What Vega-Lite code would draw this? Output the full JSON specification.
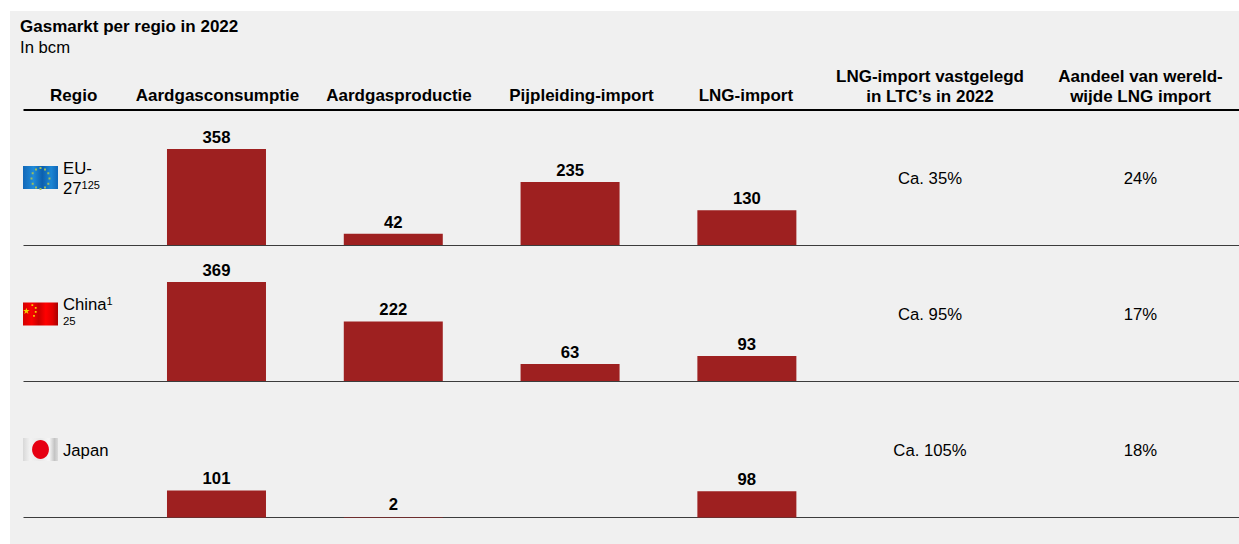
{"$schema":"https://vega.github.io/schema/vega-lite/v6.json","background":"#ffffff","padding":{"left":10,"top":11,"right":0,"bottom":0},"bounds":"flush","spacing":0,"config":{"font":"Liberation Sans","view":{"fill":"#f0f0f0","stroke":null},"text":{"fontSize":16.7,"color":"#000000"},"axis":{"title":null,"labels":false,"ticks":false,"grid":false,"domain":true,"domainColor":"#3c3c3c","domainWidth":1,"offset":-1}},"datasets":{"staven":[{"regio":"EU-27","kolom":"Aardgasconsumptie","waarde":358},{"regio":"EU-27","kolom":"Aardgasproductie","waarde":42},{"regio":"EU-27","kolom":"Pijpleiding-import","waarde":235},{"regio":"EU-27","kolom":"LNG-import","waarde":130},{"regio":"China","kolom":"Aardgasconsumptie","waarde":369},{"regio":"China","kolom":"Aardgasproductie","waarde":222},{"regio":"China","kolom":"Pijpleiding-import","waarde":63},{"regio":"China","kolom":"LNG-import","waarde":93},{"regio":"Japan","kolom":"Aardgasconsumptie","waarde":101},{"regio":"Japan","kolom":"Aardgasproductie","waarde":2},{"regio":"Japan","kolom":"LNG-import","waarde":98}],"tabel":[{"regio":"EU-27","kolom":"LTC","tekst":"Ca. 35%"},{"regio":"EU-27","kolom":"Aandeel","tekst":"24%"},{"regio":"China","kolom":"LTC","tekst":"Ca. 95%"},{"regio":"China","kolom":"Aandeel","tekst":"17%"},{"regio":"Japan","kolom":"LTC","tekst":"Ca. 105%"},{"regio":"Japan","kolom":"Aandeel","tekst":"18%"}],"regios":[{"regio":"EU-27","kolom":"Regio","label":"EU-\n27"},{"regio":"China","kolom":"Regio","label":"China"},{"regio":"Japan","kolom":"Regio","label":"Japan"}],"koppen":[{"kolom":"Aardgasconsumptie","tekst":"Aardgasconsumptie"},{"kolom":"Aardgasproductie","tekst":"Aardgasproductie"},{"kolom":"Pijpleiding-import","tekst":"Pijpleiding-import"},{"kolom":"LNG-import","tekst":"LNG-import"}],"koppen2":[{"kolom":"LTC","tekst":"LNG-import vastgelegd\nin LTC’s in 2022"},{"kolom":"Aandeel","tekst":"Aandeel van wereld-\nwijde LNG import"}]},"vconcat":[{"width":1229,"height":100,"title":{"text":"Gasmarkt per regio in 2022","subtitle":"In bcm","anchor":"start","frame":"group","dx":10,"offset":-47,"fontSize":17,"fontWeight":"bold","color":"#000000","subtitleFontSize":16.7,"subtitleColor":"#000000","subtitlePadding":4.5,"font":"Liberation Sans","subtitleFont":"Liberation Sans"},"resolve":{"scale":{"x":"independent"}},"layer":[{"data":{"name":"koppen"},"transform":[{"filter":"datum.kolom === 'Aardgasconsumptie'"}],"mark":{"type":"text","fontWeight":"bold","fontSize":17,"dy":34.5,"dx":1},"encoding":{"x":{"field":"kolom","type":"nominal","sort":null,"scale":{"type":"band","domain":["Aardgasconsumptie","Aardgasproductie","Pijpleiding-import","LNG-import","LTC","Aandeel"],"range":[13,1229],"paddingInner":0,"paddingOuter":0.439,"align":0.677},"axis":{"domainColor":"#000000","domainWidth":2,"offset":-1.5}},"text":{"field":"tekst"}}},{"data":{"name":"koppen"},"transform":[{"filter":"datum.kolom === 'LNG-import'"}],"mark":{"type":"text","fontWeight":"bold","fontSize":17,"dy":34.5,"dx":-1},"encoding":{"x":{"field":"kolom","type":"nominal","sort":null,"scale":{"type":"band","domain":["Aardgasconsumptie","Aardgasproductie","Pijpleiding-import","LNG-import","LTC","Aandeel"],"range":[13,1229],"paddingInner":0,"paddingOuter":0.439,"align":0.677},"axis":null},"text":{"field":"tekst"}}},{"data":{"name":"koppen"},"transform":[{"filter":"datum.kolom === 'Aardgasproductie' || datum.kolom === 'Pijpleiding-import'"}],"mark":{"type":"text","fontWeight":"bold","fontSize":17,"dy":34.5},"encoding":{"x":{"field":"kolom","type":"nominal","sort":null,"scale":{"type":"point","domain":["Aardgasproductie","Pijpleiding-import"],"range":[389,571.5],"padding":0},"axis":null},"text":{"field":"tekst"}}},{"data":{"name":"koppen2"},"mark":{"type":"text","fontWeight":"bold","fontSize":17,"lineBreak":"\n","lineHeight":20,"dy":15.5},"encoding":{"x":{"field":"kolom","type":"nominal","sort":null,"scale":{"type":"point","domain":["LTC","Aandeel"],"range":[920,1130.5],"padding":0},"axis":null},"text":{"field":"tekst"}}},{"data":{"values":[{"kolom":"Regio","tekst":"Regio"}]},"mark":{"type":"text","fontWeight":"bold","fontSize":17,"dy":34.5},"encoding":{"x":{"field":"kolom","type":"nominal","scale":{"type":"point","domain":["Regio","Eind"],"range":[63.7,100],"padding":0},"axis":null},"text":{"field":"tekst"}}}]},{"width":1229,"height":135,"resolve":{"scale":{"x":"independent"}},"layer":[{"data":{"name":"staven"},"transform":[{"filter":"datum.regio === 'EU-27'"}],"encoding":{"x":{"field":"kolom","type":"nominal","sort":null,"scale":{"type":"band","domain":["Aardgasconsumptie","Aardgasproductie","Pijpleiding-import","LNG-import","LTC","Aandeel"],"range":[13,1229],"paddingInner":0,"paddingOuter":0.439,"align":0.677}},"y":{"field":"waarde","type":"quantitative","scale":{"domain":[-3.7,500]},"axis":null}},"layer":[{"mark":{"type":"bar","width":99,"color":"#9e2020"}},{"mark":{"type":"text","fontWeight":"bold","baseline":"alphabetic","dy":-6},"encoding":{"text":{"field":"waarde","type":"quantitative"}}}]},{"data":{"name":"regios"},"transform":[{"filter":"datum.regio === 'EU-27'"}],"mark":{"type":"text","align":"left","lineBreak":"\n","lineHeight":19.5,"dy":-9.5},"encoding":{"x":{"field":"kolom","type":"nominal","scale":{"type":"point","domain":["Vlag","Regio"],"range":[30.5,53],"padding":0},"axis":null},"text":{"field":"label"}}},{"data":{"values":[{"kolom":"Regio","tekst":"125"}]},"mark":{"type":"text","align":"left","fontSize":11,"dx":18.6,"dy":7.3},"encoding":{"x":{"field":"kolom","type":"nominal","scale":{"type":"point","domain":["Vlag","Regio"],"range":[30.5,53],"padding":0},"axis":null},"text":{"field":"tekst"}}},{"data":{"name":"tabel"},"transform":[{"filter":"datum.regio === 'EU-27'"}],"mark":{"type":"text","dy":0.5},"encoding":{"x":{"field":"kolom","type":"nominal","sort":null,"scale":{"type":"point","domain":["LTC","Aandeel"],"range":[920,1130.5],"padding":0},"axis":null},"text":{"field":"tekst"}}},{"data":{"values":[{"kolom":"Vlag","regio":"EU-27"}]},"mark":{"type":"point","filled":true,"opacity":1,"size":4900,"shape":"M-.5,-.358H.5V.3H-.5Z","fill":{"gradient":"linear","x1":0,"x2":1,"y1":0,"y2":0,"stops":[{"offset":0,"color":"#1268b8"},{"offset":0.3,"color":"#1f8ad8"},{"offset":0.55,"color":"#0b5fae"},{"offset":0.8,"color":"#1c86d4"},{"offset":1,"color":"#0f66b8"}]}},"encoding":{"x":{"field":"kolom","type":"nominal","scale":{"type":"point","domain":["Vlag","Regio"],"range":[30.5,53],"padding":0},"axis":null}}},{"data":{"values":[{"kolom":"Vlag","regio":"EU-27"}]},"mark":{"type":"point","filled":true,"opacity":1,"size":4900,"color":"#9fbf5a","shape":"M-.028,-.328h.056v.056h-.056zM.101,-.288h.056v.056h-.056zM.195,-.178h.056v.056h-.056zM.229,-.028h.056v.056h-.056zM.195,.122h.056v.056h-.056zM.101,.232h.056v.056h-.056zM-.028,.272h.056v.056h-.056zM-.157,.232h.056v.056h-.056zM-.251,.122h.056v.056h-.056zM-.285,-.028h.056v.056h-.056zM-.251,-.178h.056v.056h-.056zM-.157,-.288h.056v.056h-.056z"},"encoding":{"x":{"field":"kolom","type":"nominal","scale":{"type":"point","domain":["Vlag","Regio"],"range":[30.5,53],"padding":0},"axis":null}}}]},{"width":1229,"height":136,"resolve":{"scale":{"x":"independent"}},"layer":[{"data":{"name":"staven"},"transform":[{"filter":"datum.regio === 'China'"}],"encoding":{"x":{"field":"kolom","type":"nominal","sort":null,"scale":{"type":"band","domain":["Aardgasconsumptie","Aardgasproductie","Pijpleiding-import","LNG-import","LTC","Aandeel"],"range":[13,1229],"paddingInner":0,"paddingOuter":0.439,"align":0.677}},"y":{"field":"waarde","type":"quantitative","scale":{"domain":[-3.7,503.7]},"axis":null}},"layer":[{"mark":{"type":"bar","width":99,"color":"#9e2020"}},{"mark":{"type":"text","fontWeight":"bold","baseline":"alphabetic","dy":-6.5},"encoding":{"text":{"field":"waarde","type":"quantitative"}}}]},{"data":{"name":"regios"},"transform":[{"filter":"datum.regio === 'China'"}],"mark":{"type":"text","align":"left","dy":-9},"encoding":{"x":{"field":"kolom","type":"nominal","scale":{"type":"point","domain":["Vlag","Regio"],"range":[30.5,53],"padding":0},"axis":null},"text":{"field":"label"}}},{"data":{"values":[{"kolom":"Regio","tekst":"1"}]},"mark":{"type":"text","align":"left","fontSize":11,"dx":43.6,"dy":-11.8},"encoding":{"x":{"field":"kolom","type":"nominal","scale":{"type":"point","domain":["Vlag","Regio"],"range":[30.5,53],"padding":0},"axis":null},"text":{"field":"tekst"}}},{"data":{"values":[{"kolom":"Regio","tekst":"25"}]},"mark":{"type":"text","align":"left","fontSize":11.4,"dy":8},"encoding":{"x":{"field":"kolom","type":"nominal","scale":{"type":"point","domain":["Vlag","Regio"],"range":[30.5,53],"padding":0},"axis":null},"text":{"field":"tekst"}}},{"data":{"name":"tabel"},"transform":[{"filter":"datum.regio === 'China'"}],"mark":{"type":"text","dy":1},"encoding":{"x":{"field":"kolom","type":"nominal","sort":null,"scale":{"type":"point","domain":["LTC","Aandeel"],"range":[920,1130.5],"padding":0},"axis":null},"text":{"field":"tekst"}}},{"data":{"values":[{"kolom":"Vlag","regio":"China"}]},"mark":{"type":"point","filled":true,"opacity":1,"size":4900,"shape":"M-.5,-.329H.5V.329H-.5Z","fill":{"gradient":"linear","x1":0,"x2":1,"y1":0,"y2":0,"stops":[{"offset":0,"color":"#d40000"},{"offset":0.25,"color":"#fb0000"},{"offset":0.45,"color":"#c80000"},{"offset":0.65,"color":"#ff0000"},{"offset":0.85,"color":"#e00000"},{"offset":1,"color":"#a80000"}]}},"encoding":{"x":{"field":"kolom","type":"nominal","scale":{"type":"point","domain":["Vlag","Regio"],"range":[30.5,53],"padding":0},"axis":null}}},{"data":{"values":[{"kolom":"Vlag","regio":"China"}]},"mark":{"type":"point","filled":true,"opacity":1,"size":4900,"color":"#f5d000","shape":"M-.404,-.18L-.382,-.111L-.309,-.111L-.368,-.068L-.345,.001L-.404,-.042L-.463,.001L-.44,-.068L-.499,-.111L-.426,-.111ZM-.259,-.276h.05v.05h-.05zM-.162,-.202h.05v.05h-.05zM-.162,-.088h.05v.05h-.05zM-.211,.026h.05v.05h-.05z"},"encoding":{"x":{"field":"kolom","type":"nominal","scale":{"type":"point","domain":["Vlag","Regio"],"range":[30.5,53],"padding":0},"axis":null}}}]},{"width":1229,"height":162,"resolve":{"scale":{"x":"independent"}},"layer":[{"data":{"name":"staven"},"transform":[{"filter":"datum.regio === 'Japan'"}],"encoding":{"x":{"field":"kolom","type":"nominal","sort":null,"scale":{"type":"band","domain":["Aardgasconsumptie","Aardgasproductie","Pijpleiding-import","LNG-import","LTC","Aandeel"],"range":[13,1229],"paddingInner":0,"paddingOuter":0.439,"align":0.677},"axis":{"offset":-27}},"y":{"field":"waarde","type":"quantitative","scale":{"domain":[-99,505.5]},"axis":null}},"layer":[{"mark":{"type":"bar","width":99,"color":"#9e2020"}},{"mark":{"type":"text","fontWeight":"bold","baseline":"alphabetic","dy":-6.5},"encoding":{"text":{"field":"waarde","type":"quantitative"}}}]},{"data":{"name":"regios"},"transform":[{"filter":"datum.regio === 'Japan'"}],"mark":{"type":"text","align":"left","dy":-12},"encoding":{"x":{"field":"kolom","type":"nominal","scale":{"type":"point","domain":["Vlag","Regio"],"range":[30.5,53],"padding":0},"axis":null},"text":{"field":"label"}}},{"data":{"name":"tabel"},"transform":[{"filter":"datum.regio === 'Japan'"}],"mark":{"type":"text","dy":-12},"encoding":{"x":{"field":"kolom","type":"nominal","sort":null,"scale":{"type":"point","domain":["LTC","Aandeel"],"range":[920,1130.5],"padding":0},"axis":null},"text":{"field":"tekst"}}},{"data":{"values":[{"kolom":"Vlag","regio":"Japan"}]},"mark":{"type":"point","filled":true,"opacity":1,"size":4900,"shape":"M-.5,-.715H.5V-.057H-.5Z","fill":{"gradient":"linear","x1":0,"x2":1,"y1":0,"y2":0,"stops":[{"offset":0,"color":"#d8d8d8"},{"offset":0.2,"color":"#f2f2f2"},{"offset":0.5,"color":"#e8e8e8"},{"offset":0.75,"color":"#f6f6f6"},{"offset":0.9,"color":"#c4c4c4"},{"offset":1,"color":"#dcdcdc"}]}},"encoding":{"x":{"field":"kolom","type":"nominal","scale":{"type":"point","domain":["Vlag","Regio"],"range":[30.5,53],"padding":0},"axis":null}}},{"data":{"values":[{"kolom":"Vlag","regio":"Japan"}]},"mark":{"type":"point","filled":true,"opacity":1,"size":4900,"color":"#e60012","shape":"M-.24,-.386A.24,.27,0,1,1,.24,-.386A.24,.27,0,1,1,-.24,-.386Z"},"encoding":{"x":{"field":"kolom","type":"nominal","scale":{"type":"point","domain":["Vlag","Regio"],"range":[30.5,53],"padding":0},"axis":null}}}]}]}
